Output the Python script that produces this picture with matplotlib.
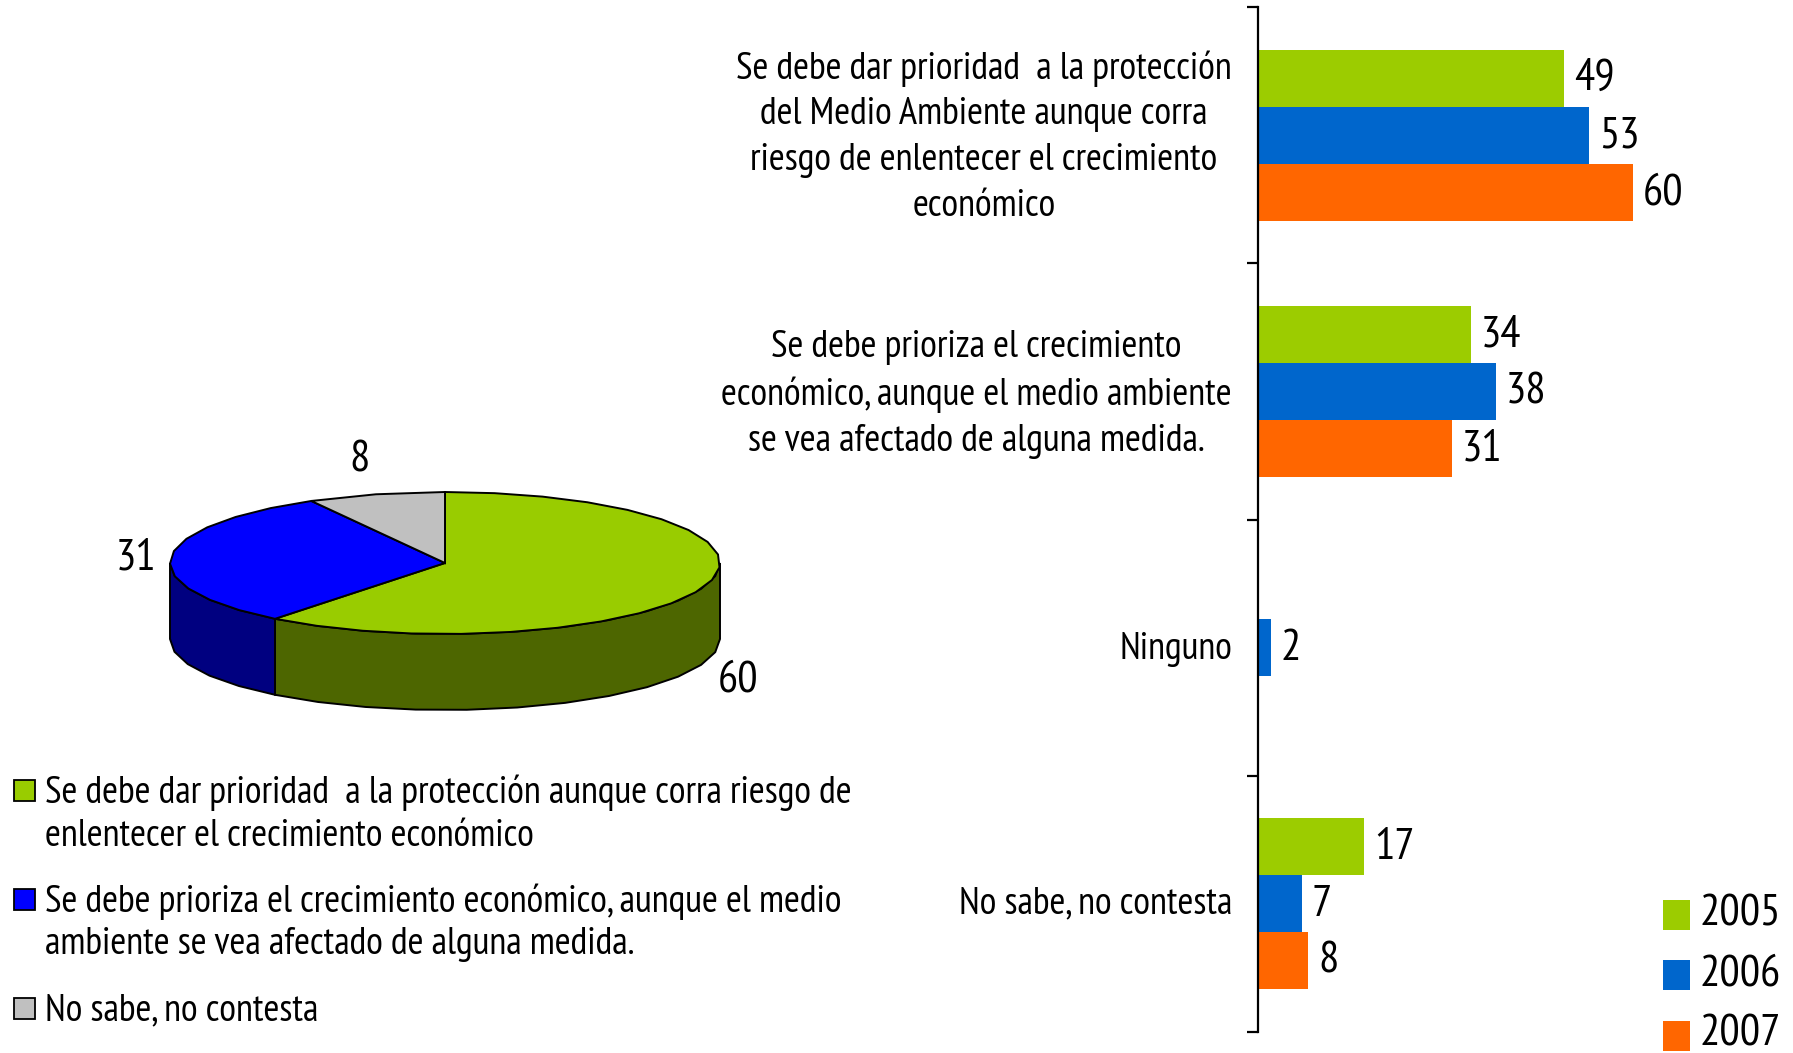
import numpy as np
import matplotlib
matplotlib.use("Agg")
import matplotlib.pyplot as plt
from matplotlib.patches import Polygon, Rectangle

FONT = ["PT Sans Narrow", "Archivo Narrow", "Liberation Sans"]
plt.rcParams["font.family"] = FONT

categories = [
    "Se debe dar prioridad  a la protección\ndel Medio Ambiente aunque corra\nriesgo de enlentecer el crecimiento\neconómico",
    "Se debe prioriza el crecimiento\neconómico, aunque el medio ambiente\nse vea afectado de alguna medida.",
    "Ninguno",
    "No sabe, no contesta",
]
years = ["2005", "2006", "2007"]
values_2005 = [49, 34, None, 17]
values_2006 = [53, 38, 2, 7]
values_2007 = [60, 31, None, 8]
year_colors = ["#9CCC00", "#0066CC", "#FF6600"]

pie_values = [60, 31, 8]
pie_top = ["#99CC00", "#0000FF", "#C0C0C0"]
pie_side = ["#4D6600", "#000080", "#606060"]
pie_legend = [
    "Se debe dar prioridad  a la protección aunque corra riesgo de\nenlentecer el crecimiento económico",
    "Se debe prioriza el crecimiento económico, aunque el medio\nambiente se vea afectado de alguna medida.",
    "No sabe, no contesta",
]

W, H = 1793, 1053
fig = plt.figure(figsize=(W / 100, H / 100), dpi=100, facecolor="white")

def box(x0, y0, x1, y1):
    return [x0 / W, 1 - y1 / H, (x1 - x0) / W, (y1 - y0) / H]

VAL_FS = 32.5
TXT_FS = 27.7

# bar chart
ax = fig.add_axes(box(1258, 7, 1793, 1032))
ax.set_xlim(0, 535 / 6.25)
ax.set_ylim(4, 0)
bh = 1 / 4.5
for j, (vals, col) in enumerate(zip([values_2005, values_2006, values_2007], year_colors)):
    for i, v in enumerate(vals):
        if v is None:
            continue
        yc = i + 0.5 + (j - 1) * bh
        ax.barh(yc, v, height=bh, color=col, linewidth=0)
        ax.annotate(str(v), (v, yc), xytext=(10, -1), textcoords="offset pixels",
                    ha="left", va="center", fontsize=VAL_FS, color="black")
for s in ["top", "right", "bottom"]:
    ax.spines[s].set_visible(False)
ax.spines["left"].set_linewidth(1.6)
ax.xaxis.set_visible(False)
ax.set_yticks(np.arange(0, 5))
ax.set_yticklabels([])
ax.tick_params(axis="y", which="major", length=8, width=1.6, direction="out")
label_dy = [-2, -3, -2, 0]
for i, (cat, dy) in enumerate(zip(categories, label_dy)):
    ax.annotate(cat, (0, i + 0.5), xytext=(-26, dy), textcoords="offset pixels",
                ha="right", va="center", multialignment="center",
                fontsize=TXT_FS, linespacing=1.4, annotation_clip=False)
ax.patch.set_alpha(0)

# pixel overlay for pie and legends
ov = fig.add_axes([0, 0, 1, 1])
ov.set_xlim(0, W)
ov.set_ylim(H, 0)
ov.axis("off")
ov.patch.set_alpha(0)

cx, cy, a, b, depth = 445, 563, 275, 71, 76
def pt(deg):
    t = np.radians(deg)
    return cx + a * np.cos(t), cy - b * np.sin(t)
def arc(d0, d1):
    n = max(2, int(abs(d1 - d0) / 10) + 1)
    return [pt(d) for d in np.linspace(d0, d1, n)]

total = sum(pie_values)
angles = [90.0]
for v in pie_values:
    angles.append(angles[-1] - 360 * v / total)

# visible wall: the front half of the rim, angles -180..0
for i, (s, e) in enumerate(zip(angles[:-1], angles[1:])):
    d0, d1 = min(s, 0.0), max(e, -180.0)
    if d0 > d1:
        top = arc(d0, d1)
        bot = [(x, y + depth) for x, y in top][::-1]
        ov.add_patch(Polygon(top + bot, closed=True, fc=pie_side[i], ec="black", lw=1.4))
for i, (s, e) in enumerate(zip(angles[:-1], angles[1:])):
    ov.add_patch(Polygon([(cx, cy)] + arc(s, e), closed=True, fc=pie_top[i], ec="black", lw=1.4))

pie_lbl = [(738, 680), (136, 559), (360, 460)]
for v, (x, y) in zip(pie_values, pie_lbl):
    ov.text(x, y, str(v), ha="center", va="center", fontsize=VAL_FS)

# pie legend
leg_y = [(793, 836), (902, 945), (1011,)]
for lines, col, ys in zip(pie_legend, pie_top, leg_y):
    ov.add_patch(Rectangle((14, ys[0] - 13), 21, 21, fc=col, ec="black", lw=1.3))
    for line, y in zip(lines.split("\n"), ys):
        ov.text(45, y, line, ha="left", va="center", fontsize=TXT_FS)

# year legend
for yr, col, y in zip(years, year_colors, [915, 975, 1036]):
    ov.add_patch(Rectangle((1663, y - 15), 27, 30, fc=col, ec="none"))
    ov.text(1699, y - 1, yr, ha="left", va="center", fontsize=VAL_FS)

fig.savefig("out.png", dpi=100)
